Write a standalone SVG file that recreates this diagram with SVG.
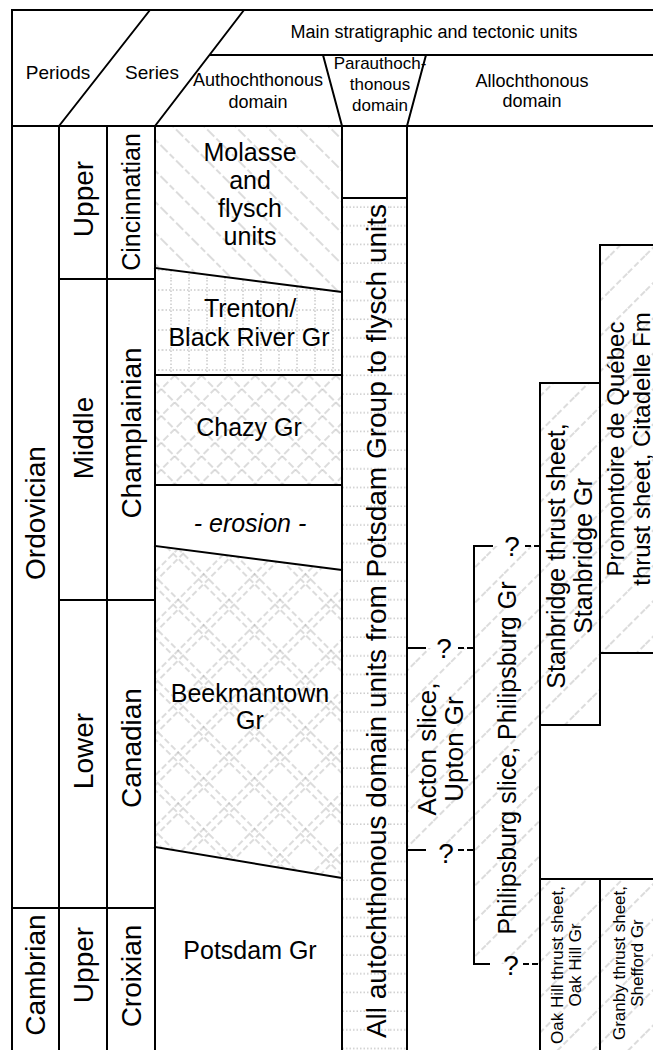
<svg xmlns="http://www.w3.org/2000/svg" width="653" height="1050" viewBox="0 0 653 1050">
<style>
.ln{fill:none;stroke:#000;stroke-width:2;stroke-linecap:square}
.thin{fill:none;stroke:#000;stroke-width:2}
.h{stroke:#9a9a9a;stroke-width:0.7;stroke-dasharray:6 3;fill:none}
.d{stroke:#9a9a9a;stroke-width:0.8;stroke-dasharray:1.5 2;fill:none}
.t{font-family:"Liberation Sans",Arial,Helvetica,sans-serif;fill:#000;text-anchor:middle;dominant-baseline:central}
.hd{font-size:18px}
.lab{font-size:28px}
.dom{font-size:25px}
.sm{font-size:17px}
.q{font-size:28px}
</style>
<defs>
<pattern id="fwd" width="25" height="25" patternUnits="userSpaceOnUse" patternTransform="rotate(45)"><line class="h" x1="12" y1="0" x2="12" y2="25"/></pattern>
<pattern id="back" width="22" height="22" patternUnits="userSpaceOnUse" patternTransform="rotate(-45)"><line class="h" x1="11" y1="0" x2="11" y2="22"/></pattern>
<pattern id="cross" width="19" height="19" patternUnits="userSpaceOnUse" patternTransform="rotate(45)"><path class="h" d="M9,0 V19 M0,9 H19"/></pattern>
<pattern id="crossBig" width="36" height="36" patternUnits="userSpaceOnUse" patternTransform="rotate(45)"><path class="h" d="M10,0 V36 M17,0 V36 M0,10 H36 M0,17 H36"/></pattern>
<pattern id="grid" width="18" height="20" patternUnits="userSpaceOnUse"><path class="d" d="M9,0 V20 M0,10 H18"/></pattern>
<pattern id="dotH" x="0" y="198" width="65" height="18.7" patternUnits="userSpaceOnUse"><path class="d" d="M0,9 H65"/></pattern>
</defs>

<g id="header">
<text class="t hd" x="434" y="32">Main stratigraphic and tectonic units</text>
<text class="t" style="font-size:19px" x="58" y="72">Periods</text>
<text class="t" style="font-size:19px" x="152" y="72">Series</text>
<text class="t hd" x="258" y="80">Authochthonous</text>
<text class="t hd" x="258" y="102">domain</text>
<text class="t" style="font-size:17px" x="380" y="63">Parauthoch-</text>
<text class="t" style="font-size:17px" x="380" y="84">thonous</text>
<text class="t" style="font-size:17px" x="380" y="105">domain</text>
<text class="t hd" x="532" y="81">Allochthonous</text>
<text class="t hd" x="532" y="101">domain</text>
</g>

<g id="time-scale">
<text class="t lab" transform="rotate(-90 35 513)" x="35" y="513">Ordovician</text>
<text class="t lab" transform="rotate(-90 35 975)" x="35" y="975">Cambrian</text>
<text class="t lab" transform="rotate(-90 83 199)" x="83" y="199">Upper</text>
<text class="t lab" transform="rotate(-90 83 438)" x="83" y="438">Middle</text>
<text class="t lab" transform="rotate(-90 83 751)" x="83" y="751">Lower</text>
<text class="t lab" transform="rotate(-90 83 965)" x="83" y="965">Upper</text>
<text class="t" style="font-size:25px" transform="rotate(-90 131 202)" x="131" y="202">Cincinnatian</text>
<text class="t lab" transform="rotate(-90 131 433)" x="131" y="433">Champlainian</text>
<text class="t lab" transform="rotate(-90 131 748)" x="131" y="748">Canadian</text>
<text class="t lab" transform="rotate(-90 131 976)" x="131" y="976">Croixian</text>
</g>

<g id="molasse">
<polygon points="155,126 342,126 342,292 155,268" fill="url(#back)"/>
<text class="t dom" x="250" y="152">Molasse</text>
<text class="t dom" x="250" y="180">and</text>
<text class="t dom" x="250" y="208">flysch</text>
<text class="t dom" x="250" y="236">units</text>
</g>
<g id="trenton">
<polygon points="155,268 342,292 342,375 155,375" fill="url(#grid)"/>
<text class="t dom" x="250" y="308">Trenton/</text>
<text class="t dom" x="249" y="337">Black River Gr</text>
</g>
<g id="chazy">
<rect x="155" y="375" width="187" height="110" fill="url(#cross)"/>
<text class="t dom" x="249" y="427">Chazy Gr</text>
</g>
<g id="erosion">
<text class="t dom" x="250" y="523" font-style="italic">- erosion -</text>
</g>
<g id="beekmantown">
<polygon points="155,546 342,570 342,878 155,847" fill="url(#crossBig)"/>
<text class="t dom" x="250" y="693">Beekmantown</text>
<text class="t dom" x="250" y="720">Gr</text>
</g>
<g id="potsdam">
<text class="t dom" x="250" y="950">Potsdam Gr</text>
</g>

<g id="parautochthonous">
<rect x="342" y="198" width="65" height="852" fill="url(#dotH)"/>
<text class="t" style="font-size:28px" transform="rotate(-90 376 621)" x="376" y="621">All autochthonous domain units from Potsdam Group to flysch units</text>
</g>

<g id="acton">
<rect x="407" y="648" width="67" height="202" fill="url(#fwd)"/>
<text class="t" style="font-size:26px" transform="rotate(-90 427 749)" x="427" y="749">Acton slice,</text>
<text class="t" style="font-size:26px" transform="rotate(-90 454 749)" x="454" y="749">Upton Gr</text>
</g>
<g id="philipsburg">
<rect x="474" y="546" width="66" height="418" fill="url(#fwd)"/>
<text class="t dom" transform="rotate(-90 507 758)" x="507" y="758">Philipsburg slice, Philipsburg Gr</text>
</g>
<g id="stanbridge">
<rect x="540" y="383" width="60" height="342" fill="url(#fwd)"/>
<text class="t dom" transform="rotate(-90 556 556)" x="556" y="556">Stanbridge thrust sheet,</text>
<text class="t dom" transform="rotate(-90 583 556)" x="583" y="556">Stanbridge Gr</text>
</g>
<g id="promontoire">
<rect x="600" y="245" width="60" height="408" fill="url(#fwd)"/>
<text class="t" style="font-size:24px" transform="rotate(-90 615 449)" x="615" y="449">Promontoire de Québec</text>
<text class="t" style="font-size:24px" transform="rotate(-90 641 449)" x="641" y="449">thrust sheet, Citadelle Fm</text>
</g>
<g id="oakhill">
<rect x="540" y="879" width="60" height="171" fill="url(#fwd)"/>
<text class="t sm" transform="rotate(-90 557 965)" x="557" y="965">Oak Hill thrust sheet,</text>
<text class="t sm" transform="rotate(-90 575 965)" x="575" y="965">Oak Hill Gr</text>
</g>
<g id="granby">
<rect x="600" y="879" width="60" height="171" fill="url(#fwd)"/>
<text class="t sm" transform="rotate(-90 619 963)" x="619" y="963">Granby thrust sheet,</text>
<text class="t sm" transform="rotate(-90 637 963)" x="637" y="963">Shefford Gr</text>
</g>

<g id="frame">
<path class="ln" d="M12,10 H653 M12,10 V1050 M12,126 H653 M210,55 H653"/>
<path class="thin" d="M150,10 L59,126 M244,10 L155,126 M323,55 L342,126 M426,55 L407,126"/>
<path class="ln" d="M59,126 V1050 M107,126 V1050 M155,126 V1050 M342,126 V1050 M407,126 V1050"/>
<path class="ln" d="M12,908 H155 M59,279 H155 M59,600 H155"/>
<path class="ln" d="M155,268 L342,292 M155,375 H342 M155,485 H342 M155,546 L342,570 M155,847 L342,878 M342,198 H407"/>
<path class="ln" d="M474,546 V964 M540,383 V1050 M600,245 V725 M600,879 V1050 M540,383 H600 M540,725 H600 M600,245 H653 M600,653 H653 M540,879 H653"/>
</g>

<g id="connectors">
<path class="thin" d="M407,648 H426 M407,850 H426 M474,546 H493 M474,964 H490"/>
<path class="thin" stroke-dasharray="6 3" d="M458,648 H474 M458,850 H474 M525,546 H540 M523,964 H540"/>
<text class="t q" x="444" y="648">?</text>
<text class="t q" x="446" y="853">?</text>
<text class="t q" x="512" y="546">?</text>
<text class="t q" x="511" y="965">?</text>
</g>
</svg>
